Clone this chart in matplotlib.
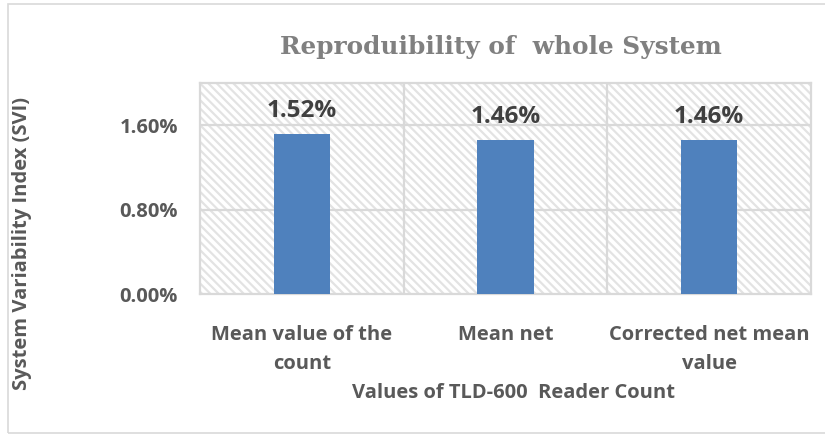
import matplotlib
matplotlib.use("Agg")
import matplotlib.pyplot as plt
from matplotlib.patches import Rectangle
from matplotlib.ticker import FixedLocator, FuncFormatter

categories = ["Mean value of the\ncount", "Mean net", "Corrected net mean\nvalue"]
svi_values = [1.52, 1.46, 1.46]   # percent
y_ticks = [0.0, 0.8, 1.6]

plt.rcParams["hatch.color"] = "#e3e3e3"
plt.rcParams["hatch.linewidth"] = 1.6

text_font = "Open Sans"
tick_color = "#595959"
grid_color = "#d9d9d9"
label_size = 14.5

fig = plt.figure(figsize=(8.25, 4.37), dpi=100)
ax = fig.add_axes([200 / 825, 1 - 294 / 437, (811 - 200) / 825, (294 - 83) / 437])

# outer chart border
fig.patches.append(Rectangle((8 / 825, 1 - 433 / 437), 1.2, (433 - 4) / 437,
                             transform=fig.transFigure, fill=False,
                             edgecolor=grid_color, linewidth=1.2, zorder=0))

x = list(range(len(categories)))
ax.set_xlim(-0.5, len(categories) - 0.5)
ax.set_ylim(0, 2.0)

# hatched plot background
ax.add_patch(Rectangle((0, 0), 1, 1, transform=ax.transAxes, facecolor="white",
                       hatch="\\\\\\\\", edgecolor="#e3e3e3", linewidth=0, zorder=0))

# gridlines
for yv in y_ticks[1:]:
    ax.axhline(yv, color=grid_color, linewidth=1.6, zorder=1)
for xv in [0.5, 1.5]:
    ax.axvline(xv, color=grid_color, linewidth=1.6, zorder=1)
for sp in ax.spines.values():
    sp.set_color(grid_color)
    sp.set_linewidth(1.6)

bars = ax.bar(x, svi_values, width=0.275, color="#4f81bd", zorder=3)
for xi, v in zip(x, svi_values):
    ax.annotate(f"{v:.2f}%", (xi, v), xytext=(0, 12), textcoords="offset points",
                ha="center", va="baseline", fontsize=17.5, fontweight="bold",
                family=text_font, color="#404040", zorder=4)

ax.yaxis.set_major_locator(FixedLocator(y_ticks))
ax.yaxis.set_major_formatter(FuncFormatter(lambda v, p: f"{v:.2f}%"))
ax.set_xticks(x)
ax.set_xticklabels(categories, linespacing=1.65)
ax.tick_params(axis="both", length=0, colors=tick_color, labelsize=label_size)
ax.tick_params(axis="y", pad=16)
ax.tick_params(axis="x", pad=22)
for lab in ax.get_xticklabels() + ax.get_yticklabels():
    lab.set_fontweight("bold")
    lab.set_family(text_font)

fig.text(514 / 825, 1 - 393 / 437, "Values of TLD-600  Reader Count", ha="center",
         va="center", fontsize=label_size, fontweight="bold", family=text_font,
         color=tick_color)
fig.text(22 / 825, 1 - 243 / 437, "System Variability Index (SVI)", ha="center",
         va="center", rotation=90, fontsize=label_size, fontweight="bold",
         family=text_font, color=tick_color)
fig.text(501 / 825, 1 - 47 / 437, "Reproduibility of  whole System", ha="center",
         va="center", fontsize=17.8, fontweight="bold", family="DejaVu Serif",
         color="#808080")

fig.savefig("out.png", dpi=100, facecolor="white")
